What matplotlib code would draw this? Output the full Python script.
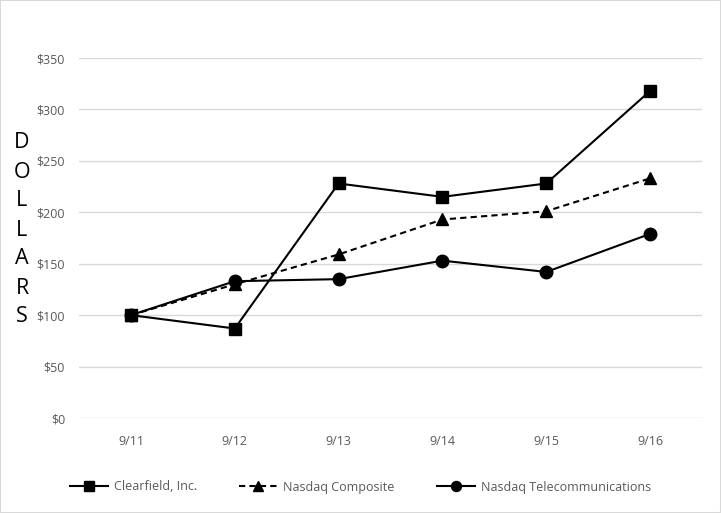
import numpy as np
import matplotlib.pyplot as plt
from matplotlib.patches import Rectangle

# data
dates = ["9/11", "9/12", "9/13", "9/14", "9/15", "9/16"]
clearfield = [100, 87, 228, 215, 228, 318]
composite = [100, 130, 159, 193, 201, 233]
telecom = [100, 133, 135, 153, 142, 179]
yticks = [0, 50, 100, 150, 200, 250, 300, 350]

plt.rcParams['font.family'] = ['Open Sans', 'DejaVu Sans']

fig = plt.figure(figsize=(7.21, 5.13), dpi=100)
ax = fig.add_axes([79/721, (513-418)/513, (702-79)/721, 360/513])

x = np.arange(len(dates))
ax.plot(x, clearfield, color="black", lw=1.5, marker="s", ms=9, label="Clearfield, Inc.")
ax.plot(x, composite, color="black", lw=1.5, ls=(0, (3, 2)), marker="^", ms=9, label="Nasdaq Composite")
ax.plot(x, telecom, color="black", lw=1.5, marker="o", ms=9, label="Nasdaq Telecommunications")

ax.set_xlim(-0.5, len(dates) - 0.5)
ax.set_ylim(0, 350)
ax.set_yticks(yticks)
ax.set_yticklabels(["$%d" % v for v in yticks])
ax.set_xticks(x)
ax.set_xticklabels(dates)
ax.grid(axis="y", color="#d9d9d9", lw=1)
ax.set_axisbelow(True)
for s in ax.spines.values():
    s.set_visible(False)
ax.tick_params(length=0, colors="#595959", labelsize=9, pad=10)
ax.tick_params(axis="x", pad=12)

# stacked vertical y label
fig.text(22/721, 1 - 230/513, "\n".join("DOLLARS"), ha="center", va="center",
         fontsize=15.5, linespacing=1.5, color="black")

fig.legend(loc="center", bbox_to_anchor=(0.5, 1 - 487/513), ncol=3, frameon=False,
           fontsize=9, labelcolor="#595959", handlelength=3.0, columnspacing=3.4,
           markerscale=0.8, handletextpad=0.5)

fig.patches.append(Rectangle((0, 0), 1, 1, transform=fig.transFigure, fill=False,
                             edgecolor="#d9d9d9", lw=1.5))

fig.savefig("out.png", dpi=100)
